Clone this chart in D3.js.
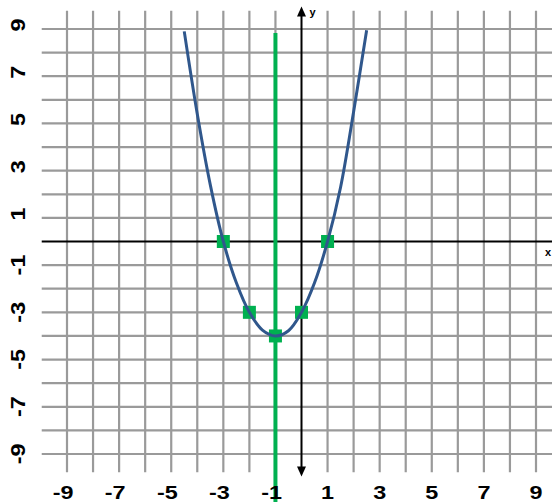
<!DOCTYPE html>
<html><head><meta charset="utf-8">
<script src="https://cdn.jsdelivr.net/npm/d3@7"></script>
<style>html,body{margin:0;padding:0;background:#fff;}svg{display:block;}</style>
</head><body>
<svg id="c" width="552" height="502"></svg>
<script>
const xTicks = [-9,-7,-5,-3,-1,1,3,5,7,9];
const yTicks = [9,7,5,3,1,-1,-3,-5,-7,-9];
const gridX = [-9,-8,-7,-6,-5,-4,-3,-2,-1,0,1,2,3,4,5,6,7,8,9];
const gridY = [-9,-8,-7,-6,-5,-4,-3,-2,-1,0,1,2,3,4,5,6,7,8,9];
const curveX = [-4.5,-4.0,-3.5,-3.0,-2.5,-2.0,-1.5,-1.0,-0.5,0.0,0.5,1.0,1.5,2.0,2.5];
const curveY = [8.9,5.4,2.4,0.0,-1.75,-3.0,-3.75,-4.0,-3.78,-3.0,-1.75,0.0,2.3,5.5,8.95];
const pointX = [-3,-2,-1,0,1];
const pointY = [0,-3,-4,-3,0];
const symmetryX = -1;

const svg = d3.select("#c");
const x = d3.scaleLinear().domain([-9,9]).range([67,536]);
const y = d3.scaleLinear().domain([9,-9]).range([29,454]);

// grid
const g = svg.append("g");
g.selectAll("line.v").data(gridX.filter(d=>d!==0)).join("line")
  .attr("x1",d=>x(d)).attr("x2",d=>x(d)).attr("y1",y(9.77)).attr("y2",y(-9.77))
  .attr("stroke","#9a9a9a").attr("stroke-width",2.2);
g.selectAll("line.h").data(gridY.filter(d=>d!==0)).join("line")
  .attr("y1",d=>y(d)).attr("y2",d=>y(d)).attr("x1",x(-9.97)).attr("x2",552)
  .attr("stroke","#9a9a9a").attr("stroke-width",2.2);

// axes
svg.append("line").attr("x1",x(-9.97)).attr("x2",552).attr("y1",y(0)).attr("y2",y(0))
  .attr("stroke","#000").attr("stroke-width",2);
svg.append("line").attr("x1",x(0)).attr("x2",x(0)).attr("y1",y(9.55)).attr("y2",y(-9.65))
  .attr("stroke","#000").attr("stroke-width",2);
const ax = x(0);
svg.append("path").attr("d",`M${ax},${y(9.95)} l-4.5,10 l9,0 z`).attr("fill","#000");
svg.append("path").attr("d",`M${ax},${y(-9.95)} l-4.5,-10 l9,0 z`).attr("fill","#000");
svg.append("text").attr("x",x(0)+8).attr("y",y(9.55)).text("y")
  .attr("font-family","Liberation Sans, Arial, sans-serif").attr("font-weight","bold").attr("font-size",11);
svg.append("text").attr("x",545).attr("y",y(0)+14).text("x")
  .attr("font-family","Liberation Sans, Arial, sans-serif").attr("font-weight","bold").attr("font-size",11);

// symmetry line
svg.append("line").attr("x1",x(symmetryX)).attr("x2",x(symmetryX)).attr("y1",y(8.83)).attr("y2",502)
  .attr("stroke","#00b050").attr("stroke-width",4);

// points
svg.selectAll("rect.pt").data(pointX.map((d,i)=>[d,pointY[i]])).join("rect")
  .attr("x",d=>x(d[0])-6.5).attr("y",d=>y(d[1])-6.5).attr("width",13).attr("height",13)
  .attr("fill","#00b050");

// curve
const line = d3.line().x(d=>x(d[0])).y(d=>y(d[1])).curve(d3.curveCatmullRom);
svg.append("path").datum(curveX.map((d,i)=>[d,curveY[i]])).attr("d",line)
  .attr("fill","none").attr("stroke","#30578c").attr("stroke-width",3);

// x labels
const xl = svg.selectAll("g.xl").data(xTicks).join("g")
  .attr("transform",d=>`translate(${x(d)+6.5},499)`);
xl.append("text").attr("transform","scale(1.3,1)").attr("text-anchor","end")
  .attr("font-family","Liberation Sans, Arial, sans-serif").attr("font-weight","bold").attr("font-size",18)
  .attr("fill","#000").text(d=>d);

// y labels
const yl = svg.selectAll("g.yl").data(yTicks).join("g")
  .attr("transform",d=>`translate(25,${y(d)-10.5}) rotate(-90)`);
yl.append("text").attr("transform","scale(1.17,1)").attr("text-anchor","end")
  .attr("font-family","Liberation Sans, Arial, sans-serif").attr("font-weight","bold").attr("font-size",20)
  .attr("fill","#000").text(d=>d);
</script>
</body></html>
